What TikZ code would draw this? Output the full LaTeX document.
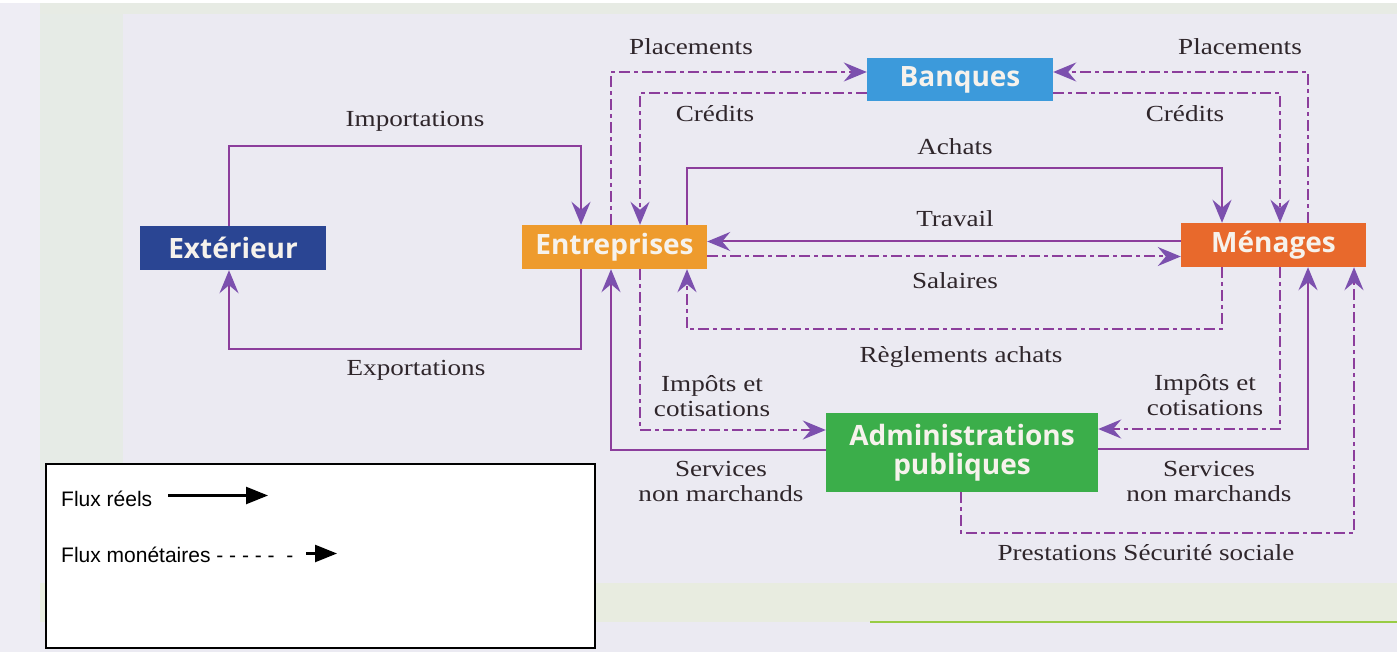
\documentclass[tikz,border=0pt]{standalone}
\usepackage{fontspec}
\usetikzlibrary{arrows.meta}
\newfontfamily\labfont[FakeStretch=1.18]{Liberation Serif}
\newfontfamily\boxfont{Open Sans}
\newfontfamily\legfont{Liberation Sans}
\definecolor{bgc}{HTML}{EBEAF2}
\definecolor{leftc}{HTML}{EEEDF4}
\definecolor{greenband}{HTML}{E6EBE6}
\definecolor{topband}{HTML}{E7EBE4}
\definecolor{botband}{HTML}{E8ECE0}
\definecolor{greenline}{HTML}{98CC44}
\definecolor{linec}{HTML}{8C3E9C}
\definecolor{arrowc}{HTML}{7C50AE}
\definecolor{labc}{HTML}{2F262B}
\definecolor{cext}{HTML}{2A4593}
\definecolor{cent}{HTML}{EE9B2D}
\definecolor{cmen}{HTML}{E8692C}
\definecolor{cban}{HTML}{3C9ADB}
\definecolor{cadm}{HTML}{3BAE4A}
\definecolor{boxtext}{HTML}{F6F2EC}
\tikzset{
  flowtip/.tip={Stealth[length=23pt,width=19pt,inset=8pt,color=arrowc]},
  real/.style={draw=linec, line width=2pt, -flowtip},
  money/.style={draw=linec, line width=2pt, dash pattern=on 11pt off 4pt on 4pt off 4pt, -flowtip},
  box/.style={rectangle, inner sep=0pt, text=boxtext, font=\boxfont\bfseries\fontsize{28}{29}\selectfont},
  lab/.style={inner sep=0pt, text=labc, align=center, font=\labfont\fontsize{23}{25}\selectfont},
  legtext/.style={inner sep=0pt, text=black, font=\legfont\fontsize{21}{24}\selectfont},
  legarrow/.style={draw=black, line width=2.5pt, -{Triangle[length=22pt,width=17pt]}},
  legbox/.style={draw=black, line width=1.5pt, fill=white, inner sep=0pt, minimum width=549pt, minimum height=184pt}
}
\begin{document}
\begin{tikzpicture}[x=1pt,y=-1pt]
\useasboundingbox (0,0) rectangle (1397,652);
% background
\fill[bgc] (0,0) rectangle (1397,652);
\fill[leftc] (0,0) rectangle (40,652);
\fill[greenband] (40,10) rectangle (123,470);
\fill[topband] (40,3) rectangle (1397,14);
\fill[botband] (40,583) rectangle (1397,622);
\draw[greenline, line width=2.5pt] (870,622) -- (1397,622);
\fill[white] (0,0) rectangle (1397,3);

% boxes
\node[box, fill=cext, minimum width=186pt, minimum height=44pt] (ext) at (233,248) {Extérieur};
\node[box, fill=cent, minimum width=185pt, minimum height=44pt] (ent) at (614.5,247) {Entreprises};
\node[box, fill=cmen, minimum width=185pt, minimum height=44pt] (men) at (1273.5,245) {Ménages};
\node[box, fill=cban, minimum width=186pt, minimum height=43pt] (ban) at (960,79.5) {Banques};
\node[box, fill=cadm, minimum width=272pt, minimum height=79pt, align=center] (adm) at (962,452.5) {Administrations\\publiques};

% Importations
\coordinate (i1) at (229,146); \coordinate (i2) at (581,146);
\draw[real] (ext.north -| i1) -- (i1) -- (i2) -- (ent.north -| i2);
% Exportations
\coordinate (e1) at (581,349); \coordinate (e2) at (229,349);
\draw[real] (ent.south -| e1) -- (e1) -- (e2) -- (ext.south -| e2);
% Placements left
\coordinate (p1) at (611,72);
\draw[money] (ent.north -| p1) -- (p1) -- (ban.west |- p1);
% Credits left
\coordinate (k1) at (640,93);
\draw[money] (ban.west |- k1) -- (k1) -- (ent.north -| k1);
% Placements right
\coordinate (p2) at (1308,72);
\draw[money] (men.north -| p2) -- (p2) -- (ban.east |- p2);
% Credits right
\coordinate (k2) at (1280,93);
\draw[money] (ban.east |- k2) -- (k2) -- (men.north -| k2);
% Achats
\coordinate (a1) at (687,168); \coordinate (a2) at (1222,168);
\draw[real] (ent.north -| a1) -- (a1) -- (a2) -- (men.north -| a2);
% Travail
\coordinate (t1) at (0,241.5);
\draw[real] (men.west |- t1) -- (ent.east |- t1);
% Salaires
\coordinate (s1) at (0,256.5);
\draw[money] (ent.east |- s1) -- (men.west |- s1);
% Reglements achats
\coordinate (r1) at (1222,329); \coordinate (r2) at (687,329);
\draw[money] (men.south -| r1) -- (r1) -- (r2) -- (ent.south -| r2);
% Impots left
\coordinate (il1) at (640,430);
\draw[money] (ent.south -| il1) -- (il1) -- (adm.west |- il1);
% Services left
\coordinate (sl1) at (611,450);
\draw[real] (adm.west |- sl1) -- (sl1) -- (ent.south -| sl1);
% Impots right
\coordinate (ir1) at (1280,429);
\draw[money] (men.south -| ir1) -- (ir1) -- (adm.east |- ir1);
% Services right
\coordinate (sr1) at (1308,449);
\draw[real] (adm.east |- sr1) -- (sr1) -- (men.south -| sr1);
% Prestations
\coordinate (pr1) at (961,533); \coordinate (pr2) at (1354,533);
\draw[money] (adm.south -| pr1) -- (pr1) -- (pr2) -- (men.south -| pr2);

% labels
\node[lab] (lImp) at (415,121) {Importations};
\node[lab] (lExp) at (416,370) {Exportations};
\node[lab] (lPl1) at (691,47) {Placements};
\node[lab] (lCr1) at (715,114) {Crédits};
\node[lab] (lPl2) at (1240,47) {Placements};
\node[lab] (lCr2) at (1185,114) {Crédits};
\node[lab] (lAch) at (955,147) {Achats};
\node[lab] (lTra) at (955,219) {Travail};
\node[lab] (lSal) at (955,281) {Salaires};
\node[lab] (lReg) at (961,357) {Règlements achats};
\node[lab] (lIm1) at (712,396) {Impôts et\\cotisations};
\node[lab] (lSe1) at (721,481) {Services\\non marchands};
\node[lab] (lIm2) at (1205,395) {Impôts et\\cotisations};
\node[lab] (lSe2) at (1209,481) {Services\\non marchands};
\node[lab] (lPre) at (1146,553) {Prestations Sécurité sociale};

% legend
\node[legbox, anchor=north west] (leg) at (45,463) {};
\node[legtext, anchor=west] (lr) at (61,499) {Flux réels};
\coordinate (lrs) at (168,495.5); \coordinate (lre) at (268,495.5);
\draw[legarrow] (lrs) -- (lre);
\node[legtext, anchor=west] (lm) at (61,555) {Flux monétaires - - - - -\ \ -};
\coordinate (lms) at (306,553.5); \coordinate (lme) at (337,553.5);
\draw[legarrow] (lms) -- (lme);
\end{tikzpicture}
\end{document}
